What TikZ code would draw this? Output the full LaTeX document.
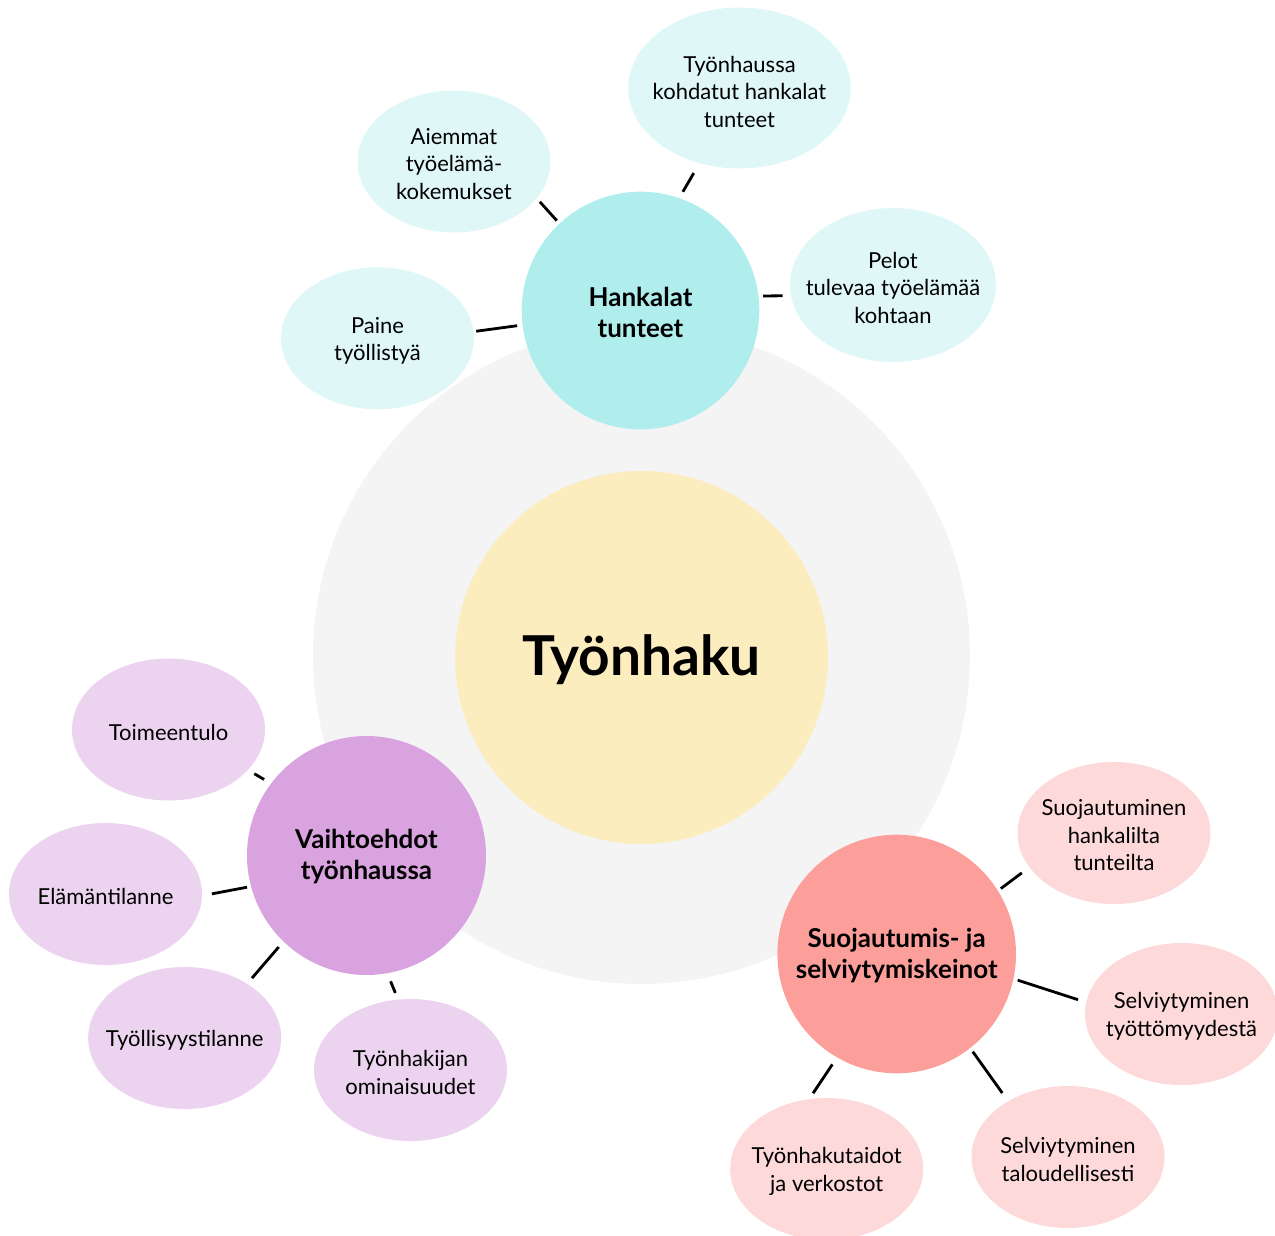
\documentclass[tikz,border=0pt]{standalone}
\usepackage{fontspec}
\setmainfont{Lato}
\usetikzlibrary{shapes.geometric}
\definecolor{bggray}{HTML}{F4F4F4}
\definecolor{core}{HTML}{FBEDBE}
\definecolor{tealA}{HTML}{B0EDED}
\definecolor{tealB}{HTML}{E0F7F7}
\definecolor{purA}{HTML}{D9A3E0}
\definecolor{purB}{HTML}{ECD3EF}
\definecolor{redA}{HTML}{FC9F9B}
\definecolor{redB}{HTML}{FDD9D9}
\begin{document}
\begin{tikzpicture}[x=1pt,y=-1pt,
  hub/.style={circle,inner sep=0pt,minimum size=#1},
  ell/.style={ellipse,inner sep=0pt,minimum width=193pt,minimum height=142pt},
  etxt/.style={align=center,font=\fontsize{22}{27.5}\selectfont,inner sep=0pt,yshift=-2.5pt},
  htxt/.style={align=center,font=\fontsize{26}{31}\selectfont\bfseries,inner sep=0pt,yshift=-1.5pt},
  conn/.style={draw=black,line width=2.8pt}]
\useasboundingbox (0,0) rectangle (1275,1236);
% background circles
\node[hub=657pt,fill=bggray] (bg) at (641.5,655.5) {};
\node[hub=373pt,fill=core] (core) at (641.5,657.5) {};
\node[font=\fontsize{55}{60}\selectfont\bfseries,inner sep=0pt] (coret) at (641.5,659.5) {Työnhaku};
% hubs
\node[hub=237.6pt,fill=tealA] (hank) at (640.5,310.5) {};
\node[hub=239pt,fill=purA] (vaiht) at (366.5,855.5) {};
\node[hub=238.6pt,fill=redA] (suoj) at (896.7,954) {};
% teal ellipses
\node[ell,fill=tealB] (paine) at (377.5,338.3) {};
\node[ell,fill=tealB] (aiem) at (454,161.5) {};
\node[ell,fill=tealB,minimum width=222.6pt,minimum height=161pt] (tyonh) at (739.5,88) {};
\node[ell,fill=tealB,minimum width=206pt,minimum height=154pt] (pelot) at (893,285) {};
% purple ellipses
\node[ell,fill=purB] (toim) at (168.5,729.5) {};
\node[ell,fill=purB] (elam) at (105.5,894) {};
\node[ell,fill=purB] (tyoll) at (184.7,1038) {};
\node[ell,fill=purB] (tyonhak) at (410.5,1070) {};
% pink ellipses
\node[ell,fill=redB] (suojt) at (1114,833) {};
\node[ell,fill=redB] (selv1) at (1181.5,1014) {};
\node[ell,fill=redB] (selv2) at (1068,1157) {};
\node[ell,fill=redB] (taidot) at (826.7,1169) {};
% connectors
\draw[conn,shorten <=5.3pt,shorten >=2.5pt] (hank.187) -- (paine.4);
\draw[conn,shorten <=3.8pt,shorten >=4.6pt] (hank.133) -- (aiem.336);
\draw[conn,shorten <=7.2pt,shorten >=11.3pt] (hank.71) -- (tyonh.242);
\draw[conn,shorten <=4.6pt,shorten >=8.1pt] (hank.7) -- (pelot.186);
\draw[conn,shorten <=7.9pt,shorten >=7.3pt] (vaiht.143) -- (toim.333);
\draw[conn,shorten <=3.9pt,shorten >=9.9pt] (vaiht.195) -- (elam.359);
\draw[conn,shorten <=7.1pt,shorten >=7.3pt] (vaiht.226) -- (tyoll.41);
\draw[conn,shorten <=8.6pt,shorten >=7pt] (vaiht.280) -- (tyonhak.100);
\draw[conn,shorten <=3.5pt,shorten >=9.3pt] (suoj.32) -- (suojt.202);
\draw[conn,shorten <=4.3pt,shorten >=8.5pt] (suoj.348) -- (selv1.173);
\draw[conn,shorten <=4.3pt,shorten >=10pt] (suoj.308) -- (selv2.137);
\draw[conn,shorten <=8.3pt,shorten >=6.9pt] (suoj.240) -- (taidot.104);
% hub labels
\node[htxt] (hankt) at (hank) {Hankalat\\tunteet};
\node[htxt] (vaihtt) at (vaiht) {Vaihtoehdot\\työnhaussa};
\node[htxt] (suojtt) at (suoj) {Suojautumis- ja\\selviytymiskeinot};
% ellipse labels
\node[etxt] (painet) at (paine) {Paine\\työllistyä};
\node[etxt] (aiemt) at (aiem) {Aiemmat\\työelämä-\\kokemukset};
\node[etxt] (tyonht) at (739.5,89) {Työnhaussa\\kohdatut hankalat\\tunteet};
\node[etxt] (pelott) at (pelot) {Pelot\\tulevaa työelämää\\kohtaan};
\node[etxt] (toimt) at (toim) {Toimeentulo};
\node[etxt] (elamt) at (elam) {Elämäntilanne};
\node[etxt] (tyollt) at (tyoll) {Työllisyystilanne};
\node[etxt] (tyonhakt) at (tyonhak) {Työnhakijan\\ominaisuudet};
\node[etxt] (suojtt2) at (suojt) {Suojautuminen\\hankalilta\\tunteilta};
\node[etxt] (selv1t) at (selv1) {Selviytyminen\\työttömyydestä};
\node[etxt] (selv2t) at (selv2) {Selviytyminen\\taloudellisesti};
\node[etxt] (taidott) at (taidot) {Työnhakutaidot\\ja verkostot};
\end{tikzpicture}
\end{document}
